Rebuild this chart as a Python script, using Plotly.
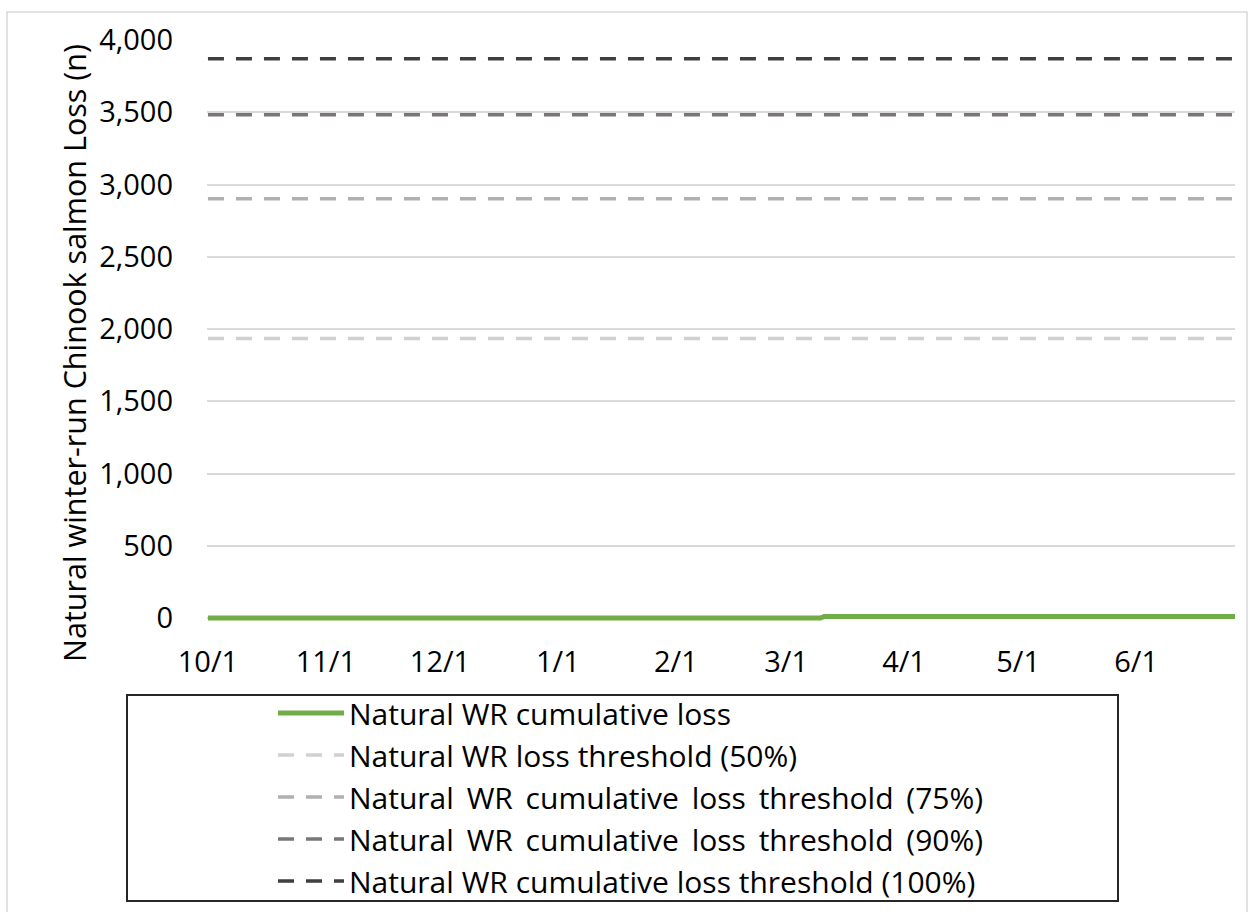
import pandas as pd
import plotly.graph_objects as go

# Water-year daily dates shown on the chart
start_date = "2023-10-01"
end_date = "2024-06-27"

# Recorded natural winter-run loss events (date, fish)
loss_event_dates = ["2024-03-11"]
loss_event_counts = [12]

# Loss thresholds (fish)
threshold_labels = [
    "Natural WR loss threshold (50%)",
    "Natural\u2009 WR\u2009 cumulative\u2009 loss\u2009 threshold\u2009 (75%)",
    "Natural\u2009 WR\u2009 cumulative\u2009 loss\u2009 threshold\u2009 (90%)",
    "Natural WR cumulative loss threshold (100%)",
]
threshold_values = [1935, 2902, 3483, 3870]
threshold_colors = ["#d0d0d0", "#b0b0b0", "#7a7676", "#3f3f3f"]

y_ticks = [0, 500, 1000, 1500, 2000, 2500, 3000, 3500, 4000]
y_title = "Natural winter-run Chinook salmon Loss (n)"

dates = pd.date_range(start_date, end_date, freq="D")
daily = pd.Series(0.0, index=dates)
for d, n in zip(loss_event_dates, loss_event_counts):
    daily[pd.Timestamp(d)] += n
cumulative = daily.cumsum()

FONT = "Open Sans"
W, H = 1250, 912
Y_MIN, Y_MAX = -20, 4000
L, R, T, B = 207, 15, 40, 291
PW, PH = W - L - R, H - T - B


def px(x):
    return (x - L) / PW


def py(y):
    return (H - B - y) / PH


fig = go.Figure()

for lab, val, col, rank in zip(threshold_labels, threshold_values, threshold_colors, range(2, 6)):
    fig.add_trace(go.Scatter(
        x=[dates[0], dates[-1]], y=[val, val], mode="lines", name=lab,
        line=dict(color=col, width=3.5, dash="16px,12px"),
        legendgroup=lab, legendrank=rank,
    ))

# green series drawn last so it sits on top; listed first in the legend
fig.add_trace(go.Scatter(
    x=dates, y=cumulative.values, mode="lines",
    name="Natural WR cumulative loss",
    line=dict(color="#70ad47", width=5),
    legendgroup="loss", legendrank=1,
))

fig.update_layout(
    width=W, height=H,
    margin=dict(l=L, r=R, t=T, b=B, autoexpand=False),
    paper_bgcolor="white", plot_bgcolor="white",
    font=dict(family=FONT, size=29, color="#000000"),
    showlegend=True,
    legend=dict(
        x=px(273), y=py(687), xanchor="left", yanchor="top",
        bgcolor="rgba(0,0,0,0)", borderwidth=0,
        font=dict(family=FONT, size=30, color="#000000"),
        itemwidth=66, tracegroupgap=0,
        traceorder="normal",
    ),
    xaxis=dict(
        type="date",
        range=["2023-09-30 18:00", "2024-06-27"],
        tickmode="linear", tick0="2023-10-01", dtick="M1",
        tickformat="%-m/%-d",
        showgrid=False, zeroline=False, showline=False,
        ticks="", ticklabelstandoff=21,
        tickfont=dict(family=FONT, size=29),
    ),
    yaxis=dict(
        range=[Y_MIN, Y_MAX],
        tickvals=y_ticks, tickformat=",",
        showgrid=True, gridcolor="#d9d9d9", gridwidth=1.5,
        zeroline=False, showline=False, ticks="",
        ticklabelstandoff=33,
        tickfont=dict(family=FONT, size=29),
    ),
    annotations=[
        dict(text=y_title, textangle=-90, showarrow=False,
             xref="paper", yref="paper", x=px(74), y=py(353),
             xanchor="center", yanchor="middle",
             font=dict(family=FONT, size=30.5, color="#000000")),
    ],
    shapes=[
        # chart frame
        dict(type="rect", xref="paper", yref="paper",
             x0=px(7), x1=px(1247), y0=py(12), y1=py(914),
             line=dict(color="#d9d9d9", width=1.5), layer="below"),
        # legend frame
        dict(type="rect", xref="paper", yref="paper",
             x0=px(127), x1=px(1118), y0=py(695), y1=py(901),
             line=dict(color="#262626", width=2), layer="above"),
    ],
)

fig.write_html("out.html")
